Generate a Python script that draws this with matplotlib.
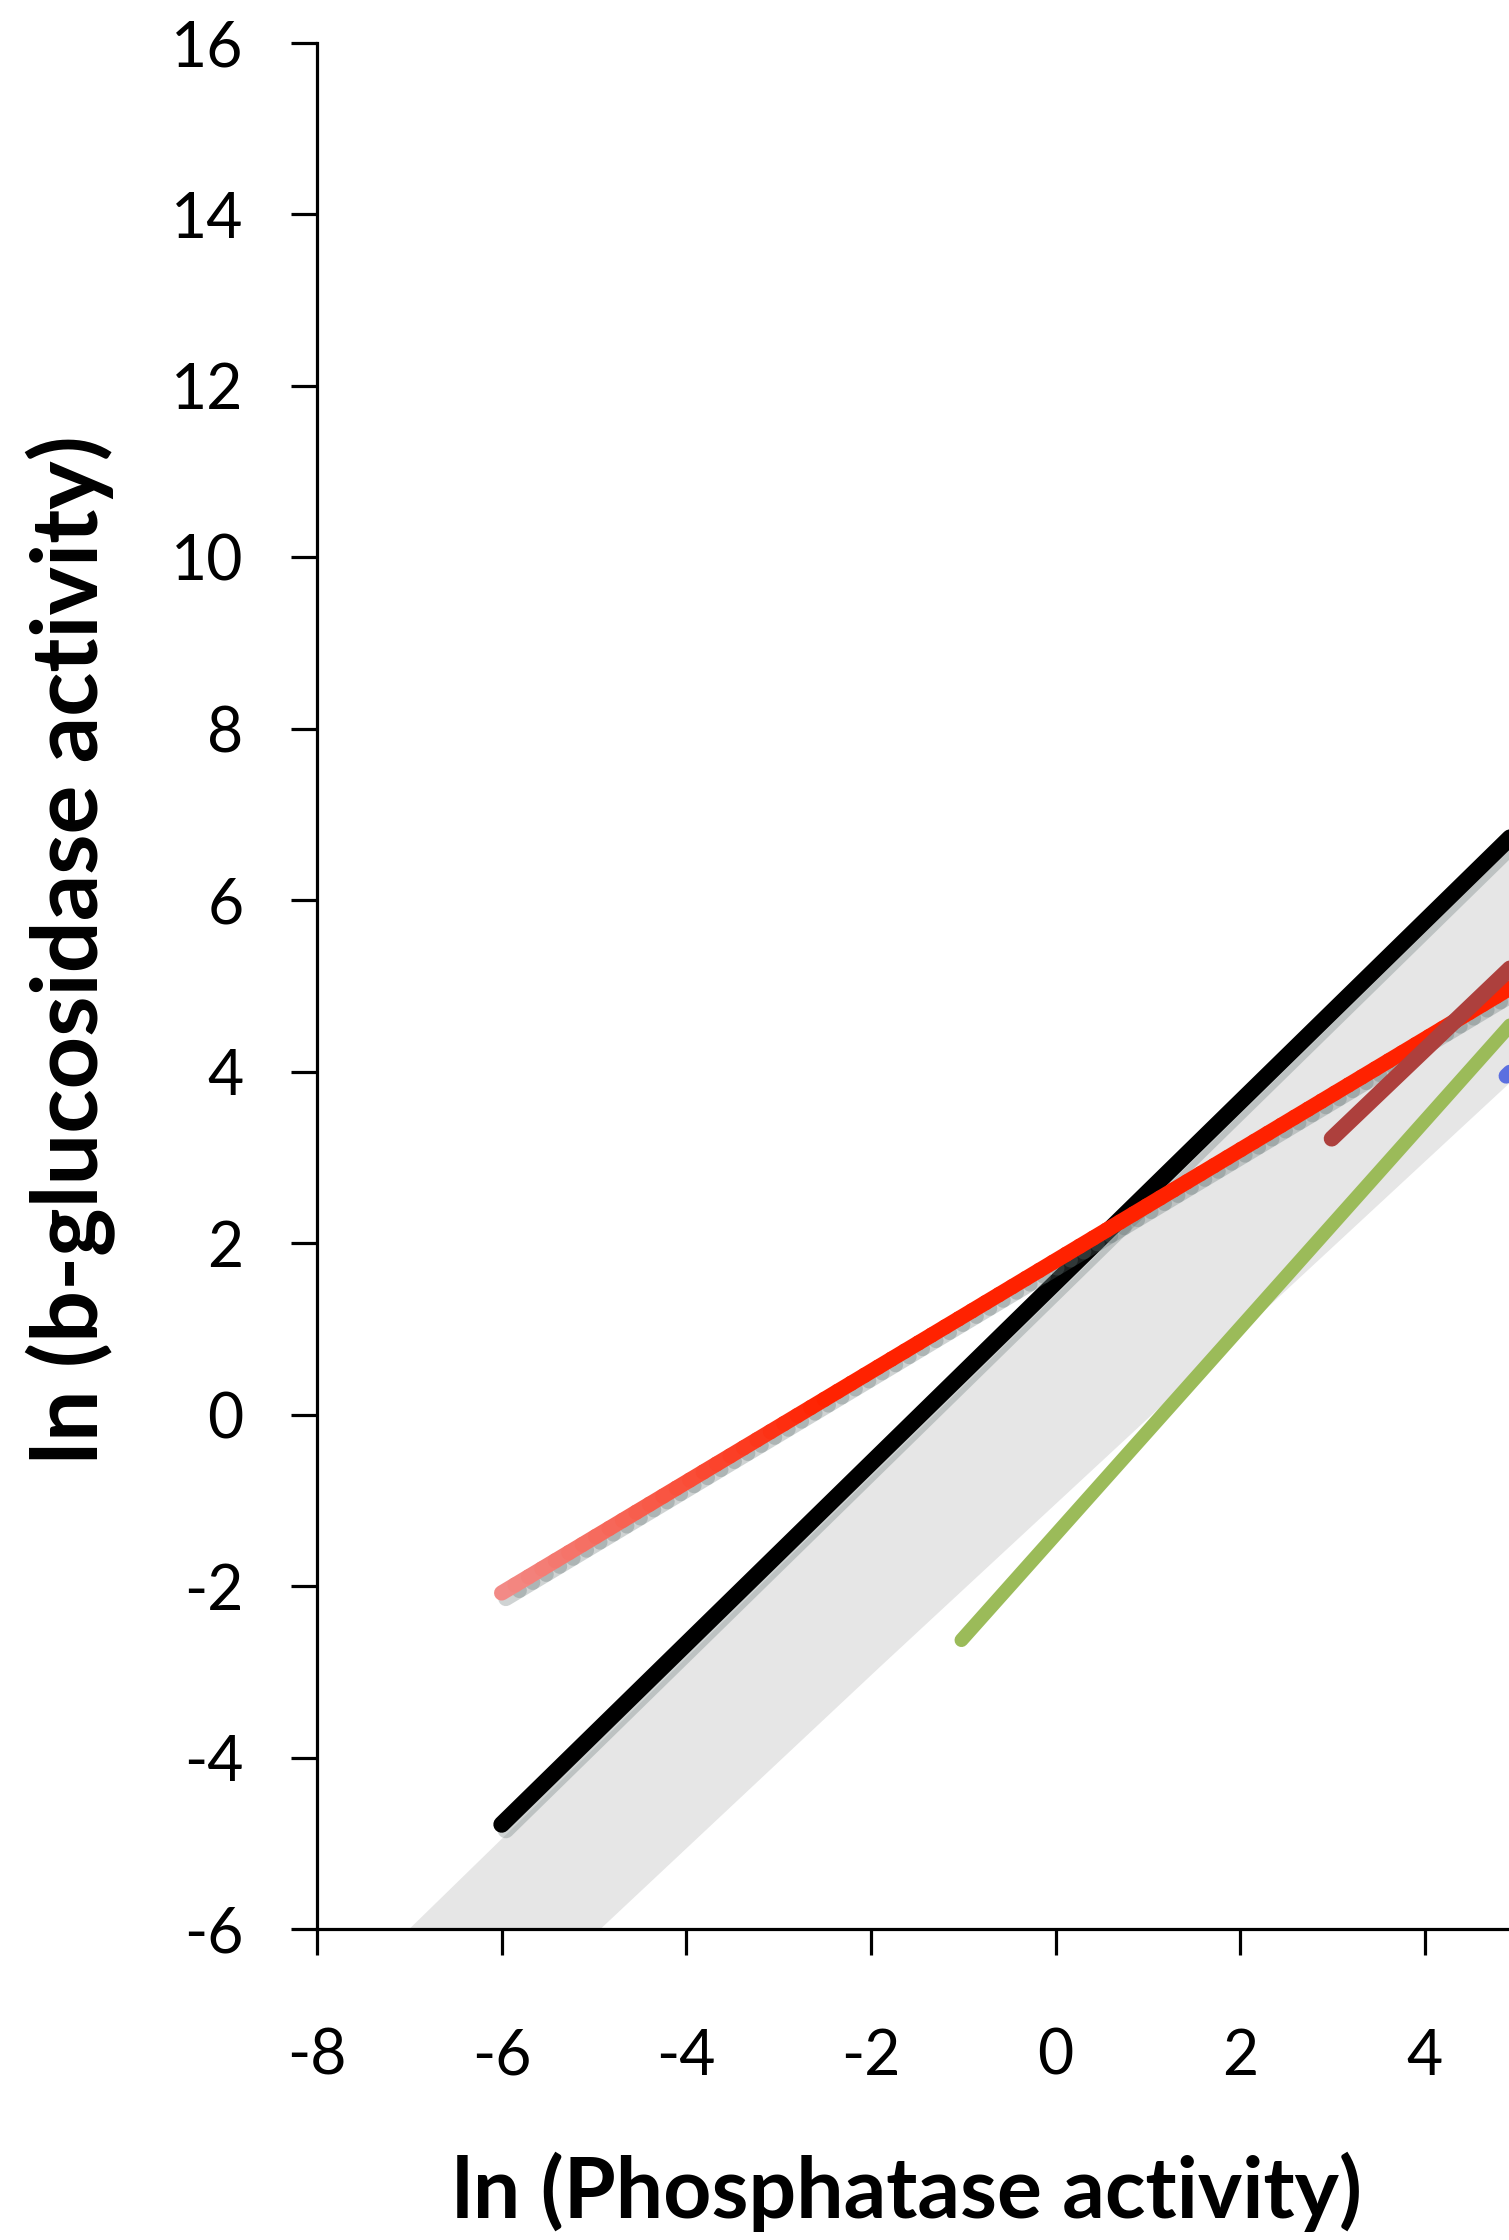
import numpy as np
import matplotlib.pyplot as plt
from matplotlib.collections import LineCollection
from matplotlib import patheffects as pe
from matplotlib.colors import to_rgb

# values (the figure is cut at x ~ 4.9)
x_ticks = [-8, -6, -4, -2, 0, 2, 4]
y_ticks = list(range(-6, 17, 2))

black_x, black_y = [-6.0, 5.5], [-4.78, 7.34]
red_x, red_y = [-6.0, 5.5], [-2.08, 5.35]
brown_x, brown_y = [2.99, 5.5], [3.22, 5.80]
green_x, green_y = [-1.02, 5.5], [-2.63, 5.24]
blue_x, blue_y = [4.88, 5.5], [3.95, 4.60]

band_up_x, band_up_y = [-7.0, -6.0, 5.5], [-6.0, -4.95, 7.2]
band_lo_x, band_lo_y = [-4.93, -1.9, 5.5], [-6.0, -2.94, 4.45]

W, H = 1509, 2240
plt.rcParams['font.family'] = ['Lato', 'DejaVu Sans']

fig = plt.figure(figsize=(W / 100, H / 100), dpi=100)
ax_l, ax_r, ax_t, ax_b = 317, 1509, 43, 1929
ax = fig.add_axes([ax_l / W, 1 - ax_b / H, (ax_r - ax_l) / W, (ax_b - ax_t) / H])
ax.set_xlim(-8, -8 + (ax_r - ax_l) / 92.33)
ax.set_ylim(-6, 16)

shadow = [pe.SimpleLineShadow(offset=(3, -4), shadow_color='#607070', alpha=0.3), pe.Normal()]

# grey band
ax.fill(band_up_x + band_lo_x[::-1], band_up_y + band_lo_y[::-1],
        color='#e6e6e6', lw=0, zorder=1)

ax.plot(green_x, green_y, color='#9bbb59', lw=10, solid_capstyle='round', zorder=2)
ax.plot(black_x, black_y, color='black', lw=12, solid_capstyle='round', zorder=3,
        path_effects=shadow)

# red line, pink at its left end
n = 80
t = np.linspace(0, 1, n)
px = red_x[0] + t * (red_x[1] - red_x[0])
py = red_y[0] + t * (red_y[1] - red_y[0])
segs = np.stack([np.c_[px[:-1], py[:-1]], np.c_[px[1:], py[1:]]], axis=1)
c0, c1 = np.array(to_rgb('#f28a86')), np.array(to_rgb('#ff2200'))
k = np.clip(t[:-1] / 0.3, 0, 1)[:, None]
cols = c0 * (1 - k) + c1 * k
lc = LineCollection(segs, colors=cols, linewidths=11, capstyle='round', zorder=4,
                    path_effects=shadow)
ax.add_collection(lc)

ax.plot(brown_x, brown_y, color='#ad403d', lw=11.5, solid_capstyle='round', zorder=5)
ax.plot(blue_x, blue_y, color='#5b6fe0', lw=11, solid_capstyle='round', zorder=5)

for s in ['top', 'right']:
    ax.spines[s].set_visible(False)
for s in ['left', 'bottom']:
    ax.spines[s].set_linewidth(2.3)
ax.set_xticks(x_ticks)
ax.set_yticks(y_ticks)
ax.tick_params(axis='both', direction='out', length=19, width=2.3, labelsize=45)
ax.tick_params(axis='y', pad=34)
ax.tick_params(axis='x', pad=52)
ax.set_xticklabels([str(v) for v in x_ticks])
ax.set_yticklabels([str(v) for v in y_ticks])

ax.set_xlabel('ln (Phosphatase activity)', fontsize=60.5, fontweight='bold', va='baseline')
ax.xaxis.set_label_coords((907 - ax_l) / (ax_r - ax_l), (ax_b - 2218) / (ax_b - ax_t))
ax.set_ylabel('ln (b-glucosidase activity)', fontsize=66, fontweight='bold', va='baseline')
ax.yaxis.set_label_coords((98 - ax_l) / (ax_r - ax_l), (ax_b - 950) / (ax_b - ax_t))

fig.savefig('out.png', dpi=100)
